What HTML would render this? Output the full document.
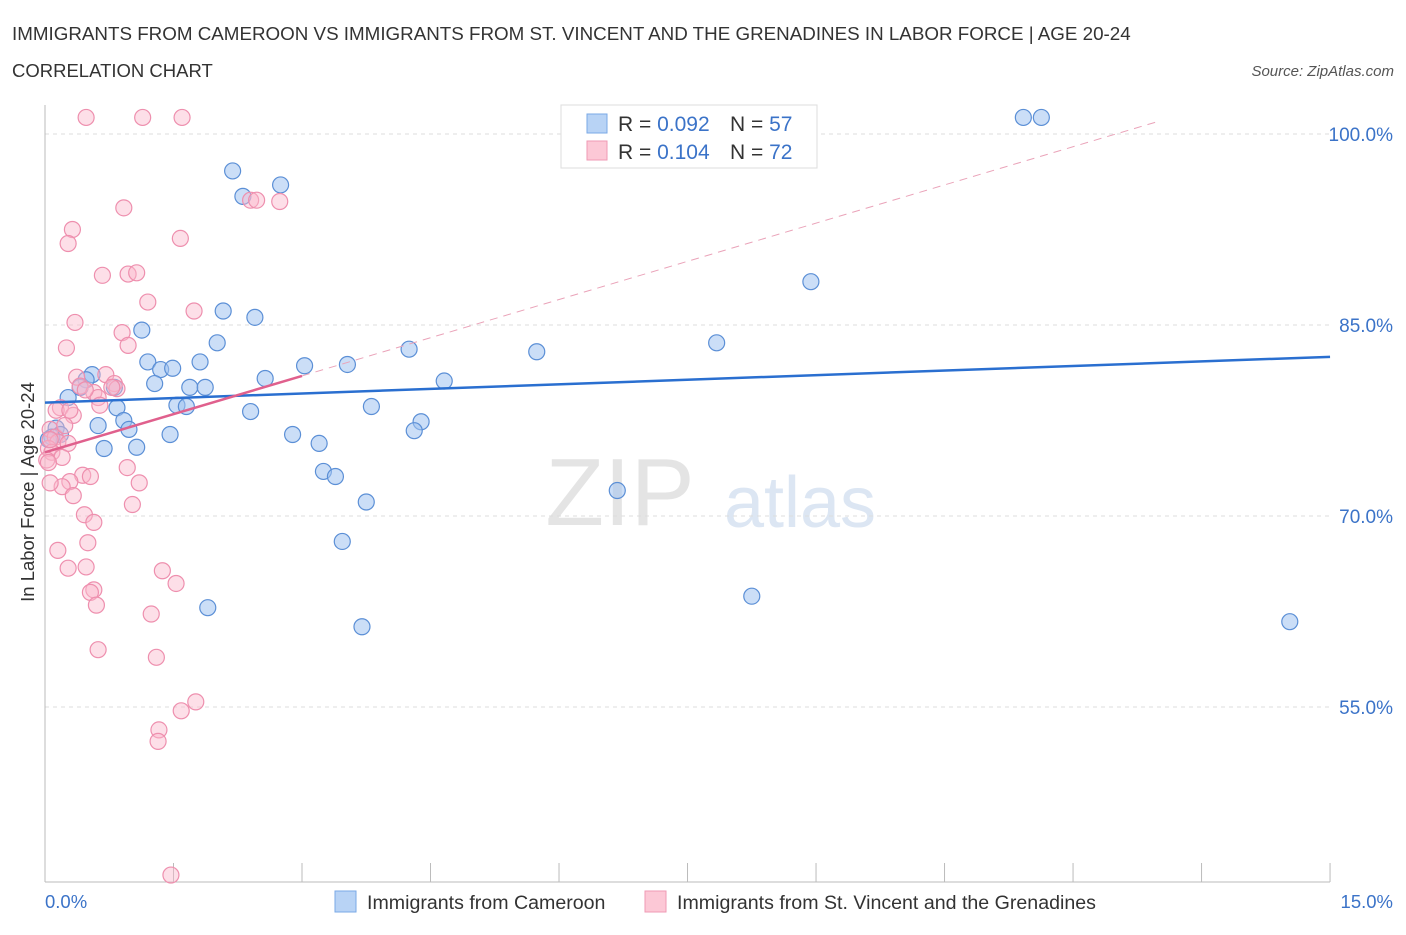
<!DOCTYPE html>
<html><head><meta charset="utf-8"><style>
body{margin:0;background:#fff;font-family:"Liberation Sans",sans-serif;}
svg text{font-family:"Liberation Sans",sans-serif;}
</style></head><body>
<svg id="chart" width="1406" height="930">
<text x="12" y="40" font-size="18.8" fill="#333">IMMIGRANTS FROM CAMEROON VS IMMIGRANTS FROM ST. VINCENT AND THE GRENADINES IN LABOR FORCE | AGE 20-24</text>
<text x="12" y="77" font-size="18.5" fill="#333">CORRELATION CHART</text>
<text x="1394" y="76" font-size="15" fill="#555" text-anchor="end" font-style="italic">Source: ZipAtlas.com</text>
<text x="620" y="525" font-size="96" fill="#e4e4e4" font-family="Liberation Serif" text-anchor="middle">ZIP</text>
<text x="800" y="527" font-size="72" fill="#dce6f3" text-anchor="middle">atlas</text>
<g id="grid"></g>
<g id="marks"></g>
<text transform="translate(34,492) rotate(-90)" font-size="18.5" fill="#333" text-anchor="middle">In Labor Force | Age 20-24</text>
<text x="45" y="908" font-size="18.5" fill="#3b73c8">0.0%</text>
<text x="1393" y="908" font-size="18.5" fill="#3b73c8" text-anchor="end">15.0%</text>
<g>
<rect x="561" y="105" width="256" height="63" fill="#fff" stroke="#ddd"/>
<rect x="587" y="114" width="20" height="19" fill="#b8d3f5" stroke="#7aa8e6"/>
<rect x="587" y="141" width="20" height="19" fill="#fcc8d6" stroke="#ef9ab4"/>
<text x="618" y="131" font-size="21" fill="#333">R = <tspan fill="#3b73c8">0.092</tspan></text>
<text x="730" y="131" font-size="21" fill="#333">N = <tspan fill="#3b73c8">57</tspan></text>
<text x="618" y="159" font-size="21" fill="#333">R =  <tspan fill="#3b73c8">0.104</tspan></text>
<text x="730" y="159" font-size="21" fill="#333">N = <tspan fill="#3b73c8">72</tspan></text>
</g>
<g>
<rect x="335" y="891" width="21" height="21" fill="#b8d3f5" stroke="#7aa8e6"/>
<text x="367" y="909" font-size="19.6" fill="#333">Immigrants from Cameroon</text>
<rect x="645" y="891" width="21" height="21" fill="#fcc8d6" stroke="#ef9ab4"/>
<text x="677" y="909" font-size="19.6" fill="#333">Immigrants from St. Vincent and the Grenadines</text>
</g>
</svg>
<script>
const yTicks=[100,85,70,55];
const yTickLabels=["100.0%","85.0%","70.0%","55.0%"];
const xTicks=[0,1.5,3,4.5,6,7.5,9,10.5,12,13.5,15];
const blueX=[11.42,11.63,2.19,2.31,2.75,8.94,2.08,2.45,1.13,2.01,4.25,5.74,7.84,1.20,1.35,1.49,1.81,3.03,3.53,0.55,0.48,1.28,1.69,1.87,2.57,4.66,0.81,0.27,1.54,1.65,0.84,2.40,3.81,0.92,0.62,0.98,4.39,4.31,0.13,0.18,1.46,2.89,3.20,0.69,1.07,3.25,3.39,3.75,6.68,3.47,1.90,8.25,3.70,14.53,0.08,0.04,0.41];
const blueY=[101.3,101.3,97.1,95.1,96.0,88.4,86.1,85.6,84.6,83.6,83.1,82.9,83.6,82.1,81.5,81.6,82.1,81.8,81.9,81.1,80.7,80.4,80.1,80.1,80.8,80.6,80.1,79.3,78.7,78.6,78.5,78.2,78.6,77.5,77.1,76.8,77.4,76.7,76.9,76.4,76.4,76.4,75.7,75.3,75.4,73.5,73.1,71.1,72.0,68.0,62.8,63.7,61.3,61.7,76.2,76.0,80.1];
const pinkX=[0.48,1.14,1.60,2.40,2.47,2.74,0.92,0.32,0.27,1.58,0.67,0.97,1.07,1.20,1.74,0.35,0.90,0.97,0.25,0.37,0.71,0.41,0.81,0.84,0.57,0.62,0.18,0.33,0.13,0.64,0.06,0.12,0.15,0.27,0.04,0.08,0.20,0.02,0.96,0.44,0.53,0.29,0.20,1.10,0.06,0.33,1.02,0.46,0.57,0.50,0.15,0.48,0.27,1.37,1.53,0.57,0.53,0.60,1.24,0.62,1.30,1.76,1.59,1.33,1.32,1.47,0.04,0.06,0.23,0.29,0.47,0.78];
const pinkY=[101.3,101.3,101.3,94.8,94.8,94.7,94.2,92.5,91.4,91.8,88.9,89.0,89.1,86.8,86.1,85.2,84.4,83.4,83.2,80.9,81.1,80.2,80.4,80.0,79.7,79.3,78.5,77.9,78.3,78.7,76.8,76.2,75.8,75.7,75.3,75.0,74.6,74.4,73.8,73.2,73.1,72.7,72.3,72.6,72.6,71.6,70.9,70.1,69.5,67.9,67.3,66.0,65.9,65.7,64.7,64.2,64.0,63.0,62.3,59.5,58.9,55.4,54.7,53.2,52.3,41.8,74.2,76.0,77.1,78.3,79.9,80.1];
const blueLine=[[0,78.9],[15,82.5]];
const pinkSolid=[[0,75.0],[3.0,81.0]];
const pinkDash=[[3.0,81.0],[13.0,101.0]];
const X=v=>45+v*85.67, Y=v=>134+(100-v)*12.733;
const NS="http://www.w3.org/2000/svg";
const grid=document.getElementById('grid'), marks=document.getElementById('marks');
function mk(tag,attrs,parent){const e=document.createElementNS(NS,tag);for(const k in attrs)e.setAttribute(k,attrs[k]);parent.appendChild(e);return e;}
yTicks.forEach((t,i)=>{
 const l=mk('line',{x1:45,x2:1330,y1:Y(t),y2:Y(t),stroke:'#ddd','stroke-dasharray':'4,4'},grid);
 
 
 const tx=mk('text',{x:1393,y:Y(t)+7,'font-size':19,fill:'#3b73c8','text-anchor':'end'},grid);
 tx.textContent=yTickLabels[i];
 
 
});
const ya=mk('line',{x1:45,x2:45,y1:105,y2:882,stroke:'#bbb'},grid);


const xa=mk('line',{x1:45,x2:1330,y1:882,y2:882,stroke:'#bbb'},grid);


xTicks.forEach(t=>{
 const l=mk('line',{x1:X(t),x2:X(t),y1:863,y2:882,stroke:'#bbb'},grid);
 
 
});
blueX.forEach((x,i)=>{
 const c=mk('circle',{cx:X(x),cy:Y(blueY[i]),r:8,fill:'rgba(160,195,240,0.55)',stroke:'#5b8fd6','stroke-width':1.2},marks);
 
 
});
pinkX.forEach((x,i)=>{
 const c=mk('circle',{cx:X(x),cy:Y(pinkY[i]),r:8,fill:'rgba(250,185,205,0.45)',stroke:'#ee8fae','stroke-width':1.2},marks);
 
 
});
const bl=mk('line',{x1:X(blueLine[0][0]),y1:Y(blueLine[0][1]),x2:X(blueLine[1][0]),y2:Y(blueLine[1][1]),stroke:'#2a6fd0','stroke-width':2.5},marks);


const pd=mk('line',{x1:X(pinkDash[0][0]),y1:Y(pinkDash[0][1]),x2:X(pinkDash[1][0]),y2:Y(pinkDash[1][1]),stroke:'#eaa3b9','stroke-width':1,'stroke-dasharray':'8,6'},marks);


const ps=mk('line',{x1:X(pinkSolid[0][0]),y1:Y(pinkSolid[0][1]),x2:X(pinkSolid[1][0]),y2:Y(pinkSolid[1][1]),stroke:'#e0608d','stroke-width':2.5},marks);


</script>
</body></html>
